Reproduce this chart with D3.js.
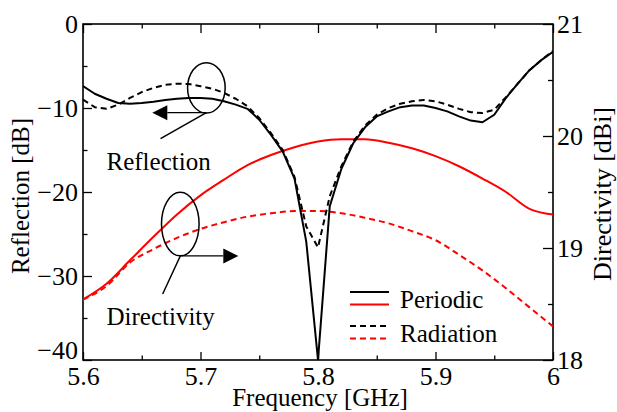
<!DOCTYPE html>
<html>
<head>
<meta charset="utf-8">
<script src="https://d3js.org/d3.v7.min.js"></script>
<style>
  body { margin: 0; background: #fff; }
  svg text { font-family: "Liberation Serif", "Times New Roman", serif; fill: #000; }
</style>
</head>
<body>
<script>
// frequency samples [GHz]
var freqFine = [5.60, 5.61, 5.62, 5.63, 5.64, 5.65, 5.66, 5.67, 5.68, 5.69,
                5.70, 5.71, 5.72, 5.73, 5.74, 5.75, 5.76, 5.77, 5.78, 5.79,
                5.80, 5.81, 5.82, 5.83, 5.84, 5.85, 5.86, 5.87, 5.88, 5.89,
                5.90, 5.91, 5.92, 5.93, 5.94, 5.95, 5.96, 5.97, 5.98, 5.99, 6.00];
var freqCoarse = [5.60, 5.62, 5.64, 5.66, 5.68, 5.70, 5.72, 5.74, 5.76, 5.78, 5.80,
                  5.82, 5.84, 5.86, 5.88, 5.90, 5.92, 5.94, 5.96, 5.98, 6.00];

// reflection [dB] (left axis)
var reflPeriodic = [-7.4, -8.3, -8.9, -9.4, -9.5, -9.4, -9.25, -9.05, -8.9, -8.8,
                    -8.8, -8.9, -9.2, -9.6, -10.1, -11.4, -13.2, -15.2, -18.4, -25.9,
                    -40.0, -21.7, -17.2, -14.2, -12.3, -11.0, -10.4, -9.9, -9.7, -9.7,
                    -10.0, -10.4, -11.0, -11.5, -11.7, -10.8, -8.8, -7.1, -5.5, -4.3, -3.3];
var reflRadiation = [-9.0, -9.9, -10.1, -9.6, -8.8, -8.1, -7.6, -7.25, -7.1, -7.15,
                     -7.4, -7.7, -8.2, -8.9, -9.8, -11.2, -13.0, -15.0, -18.2, -24.1,
                     -26.6, -20.5, -16.9, -14.0, -12.1, -10.8, -10.0, -9.5, -9.2, -9.05,
                     -9.2, -9.6, -10.1, -10.5, -10.6, -10.2, -8.7, -7.1, -5.5, -4.3, -3.2];

// directivity [dBi] (right axis)
var dirPeriodic = [18.54, 18.68, 18.89, 19.10, 19.30, 19.47, 19.61, 19.74, 19.83, 19.90, 19.95,
                   19.97, 19.97, 19.94, 19.89, 19.82, 19.73, 19.62, 19.50, 19.35, 19.30];
var dirRadiation = [18.54, 18.66, 18.87, 18.99, 19.09, 19.17, 19.23, 19.28, 19.31, 19.33, 19.33,
                    19.31, 19.27, 19.22, 19.15, 19.07, 18.94, 18.80, 18.64, 18.47, 18.30];

// tick values
var xTicks = [5.6, 5.7, 5.8, 5.9, 6.0];
var xMinor = [5.65, 5.75, 5.85, 5.95];
var yTicks = [0, -10, -20, -30, -40];
var yMinor = [-5, -15, -25, -35];
var y2Ticks = [18, 19, 20, 21];
var y2Minor = [18.5, 19.5, 20.5];

var W = 617, H = 412;
var margin = {top: 24, right: 64, bottom: 52, left: 83};
var width = W - margin.left - margin.right,
    height = H - margin.top - margin.bottom;

var svg = d3.select("body").append("svg")
    .attr("width", W).attr("height", H);
svg.append("rect").attr("width", W).attr("height", H).attr("fill", "#fff");

var g = svg.append("g").attr("transform", "translate(" + margin.left + "," + margin.top + ")");

var x = d3.scaleLinear().domain([5.6, 6.0]).range([0, width]);
var y = d3.scaleLinear().domain([-40, 0]).range([height, 0]);
var y2 = d3.scaleLinear().domain([18, 21]).range([height, 0]);

var fmtX = function (d) { return d === 6 ? "6" : d3.format(".1f")(d); };

// major + minor ticks (inward)
function addAxis(axis, cls, transform, labels) {
  var a = g.append("g").attr("class", cls).attr("transform", transform).call(axis);
  a.attr("font-family", null).attr("font-size", null);
  a.select(".domain").remove();
  a.selectAll("line").attr("stroke", "#000").attr("stroke-width", 1.3);
  if (labels) {
    a.selectAll("text").style("font-size", "26px");
  } else {
    a.selectAll("text").remove();
  }
  return a;
}

addAxis(d3.axisBottom(x).tickValues(xTicks).tickFormat(fmtX).tickSizeInner(-8).tickSizeOuter(0).tickPadding(7),
        "x-axis", "translate(0," + height + ")", true);
addAxis(d3.axisBottom(x).tickValues(xMinor).tickSizeInner(-4.5).tickSizeOuter(0),
        "x-minor", "translate(0," + height + ")", false);
addAxis(d3.axisTop(x).tickValues(xTicks).tickSizeInner(-9).tickSizeOuter(0),
        "x-top", "translate(0,0)", false);
addAxis(d3.axisTop(x).tickValues(xMinor).tickSizeInner(-4.5).tickSizeOuter(0),
        "x-top-minor", "translate(0,0)", false);

var yAx = addAxis(d3.axisLeft(y).tickValues(yTicks).tickFormat(d3.format("d")).tickSizeInner(-9).tickSizeOuter(0).tickPadding(5),
        "y-axis", "translate(0,0)", true);
// lowest label sits a little higher, clear of the 5.6 label
yAx.selectAll(".tick").filter(function (d) { return d === -40; })
   .select("text").attr("dy", "-0.05em");
addAxis(d3.axisLeft(y).tickValues(yMinor).tickSizeInner(-4.5).tickSizeOuter(0),
        "y-minor", "translate(0,0)", false);

addAxis(d3.axisRight(y2).tickValues(y2Ticks).tickFormat(d3.format("d")).tickSizeInner(-10).tickSizeOuter(0).tickPadding(4),
        "y2-axis", "translate(" + width + ",0)", true);
addAxis(d3.axisRight(y2).tickValues(y2Minor).tickSizeInner(-5).tickSizeOuter(0),
        "y2-minor", "translate(" + width + ",0)", false);

// frame
g.append("rect").attr("width", width).attr("height", height)
  .attr("fill", "none").attr("stroke", "#000").attr("stroke-width", 1.6);

// curves
var clip = g.append("clipPath").attr("id", "clip")
  .append("rect").attr("width", width).attr("height", height);
var plot = g.append("g").attr("clip-path", "url(#clip)");

var lineRefl = d3.line()
  .x(function (d, i) { return x(freqFine[i]); })
  .y(function (d) { return y(d); });
var lineDir = d3.line()
  .curve(d3.curveMonotoneX)
  .x(function (d, i) { return x(freqCoarse[i]); })
  .y(function (d) { return y2(d); });

var series = [
  {values: dirRadiation, line: lineDir, color: "#ff0000", dash: "6,4"},
  {values: dirPeriodic, line: lineDir, color: "#ff0000", dash: null},
  {values: reflRadiation, line: lineRefl, color: "#000", dash: "6,4"},
  {values: reflPeriodic, line: lineRefl, color: "#000", dash: null}
];
series.forEach(function (s) {
  plot.append("path")
    .attr("d", s.line(s.values))
    .attr("fill", "none")
    .attr("stroke", s.color)
    .attr("stroke-width", 2)
    .attr("stroke-linejoin", "round")
    .attr("stroke-dasharray", s.dash);
});

// annotations (in data units)
function arrowHead(tipX, tipY, dir) {
  var len = 15, half = 7.5;
  return [[tipX, tipY], [tipX - dir * len, tipY - half], [tipX - dir * len, tipY + half]];
}

// reflection -> left axis
g.append("ellipse")
  .attr("cx", x(5.705)).attr("cy", y(-7.6))
  .attr("rx", x(5.621) - x(5.605)).attr("ry", y(-3) - y(0))
  .attr("fill", "none").attr("stroke", "#000").attr("stroke-width", 1.5);
g.append("line")
  .attr("x1", x(5.705)).attr("y1", y(-10.56)).attr("x2", x(5.659) + 15).attr("y2", y(-10.56))
  .attr("stroke", "#000").attr("stroke-width", 1.3);
g.append("polygon").attr("points", arrowHead(x(5.659), y(-10.56), -1).join(" ")).attr("fill", "#000");
g.append("line")
  .attr("x1", x(5.705)).attr("y1", y(-10.56)).attr("x2", x(5.666)).attr("y2", y(-13.65))
  .attr("stroke", "#000").attr("stroke-width", 1.5);
g.append("text").attr("x", x(5.620)).attr("y", y(-17.4))
  .style("font-size", "25px").text("Reflection");

// directivity -> right axis
g.append("ellipse")
  .attr("cx", x(5.6828)).attr("cy", y2(19.214))
  .attr("rx", x(5.616) - x(5.6)).attr("ry", y2(18) - y2(18.284))
  .attr("fill", "none").attr("stroke", "#000").attr("stroke-width", 1.5);
g.append("line")
  .attr("x1", x(5.6828)).attr("y1", y2(18.929)).attr("x2", x(5.7322) - 15).attr("y2", y2(18.929))
  .attr("stroke", "#000").attr("stroke-width", 1.3);
g.append("polygon").attr("points", arrowHead(x(5.7322), y2(18.929), 1).join(" ")).attr("fill", "#000");
g.append("line")
  .attr("x1", x(5.6828)).attr("y1", y2(18.929)).attr("x2", x(5.6678)).attr("y2", y2(18.589))
  .attr("stroke", "#000").attr("stroke-width", 1.5);
g.append("text").attr("x", x(5.620)).attr("y", y2(18.313))
  .style("font-size", "25px").text("Directivity");

// legend
var legendItems = [
  {label: "Periodic", dash: null, y: 268},
  {label: "Radiation", dash: "6,4", y: 302}
];
var legend = g.append("g").attr("transform", "translate(267,0)");
legendItems.forEach(function (item) {
  legend.append("line").attr("x1", 0).attr("x2", 39).attr("y1", item.y).attr("y2", item.y)
    .attr("stroke", "#000").attr("stroke-width", 2).attr("stroke-dasharray", item.dash);
  legend.append("line").attr("x1", 0).attr("x2", 39).attr("y1", item.y + 12.5).attr("y2", item.y + 12.5)
    .attr("stroke", "#ff0000").attr("stroke-width", 2).attr("stroke-dasharray", item.dash);
  legend.append("text").attr("x", 50).attr("y", item.y + 15.5)
    .style("font-size", "25px").text(item.label);
});

// axis titles
svg.append("text")
  .attr("x", 320).attr("y", 406)
  .attr("text-anchor", "middle")
  .style("font-size", "25px")
  .text("Frequency [GHz]");
svg.append("text")
  .attr("transform", "translate(28.5,196) rotate(-90)")
  .attr("text-anchor", "middle")
  .style("font-size", "25px")
  .text("Reflection [dB]");
svg.append("text")
  .attr("transform", "translate(611,194) rotate(-90)")
  .attr("text-anchor", "middle")
  .style("font-size", "26px")
  .text("Directivity [dBi]");
</script>
</body>
</html>
